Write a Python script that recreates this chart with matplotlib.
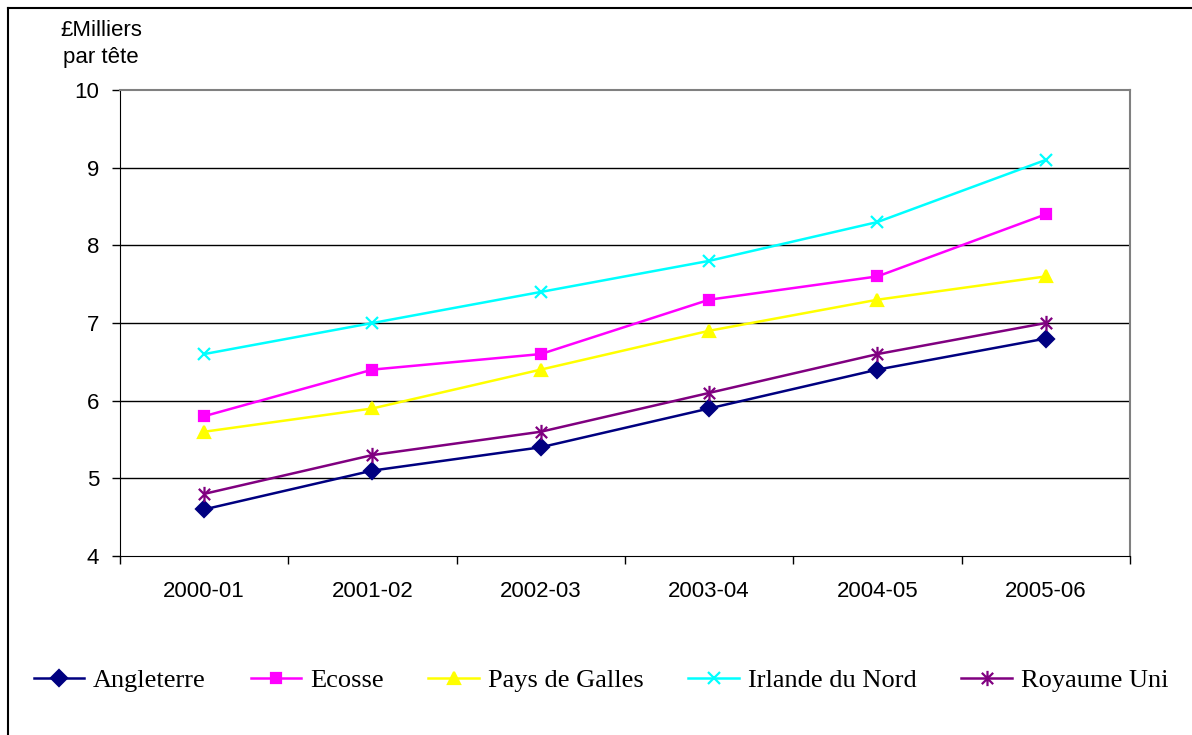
import numpy as np
import matplotlib
matplotlib.use("Agg")
import matplotlib.pyplot as plt
from matplotlib.lines import Line2D
from matplotlib.path import Path

years = ["2000-01", "2001-02", "2002-03", "2003-04", "2004-05", "2005-06"]
angleterre = [4.6, 5.1, 5.4, 5.9, 6.4, 6.8]
ecosse = [5.8, 6.4, 6.6, 7.3, 7.6, 8.4]
galles = [5.6, 5.9, 6.4, 6.9, 7.3, 7.6]
irlande = [6.6, 7.0, 7.4, 7.8, 8.3, 9.1]
royaume = [4.8, 5.3, 5.6, 6.1, 6.6, 7.0]
yticks = [4, 5, 6, 7, 8, 9, 10]

# asterisk marker like Excel's (x with a vertical bar)
star = Path([(-1, -1), (1, 1), (-1, 1), (1, -1), (0, -1.35), (0, 1.35)],
            [Path.MOVETO, Path.LINETO, Path.MOVETO, Path.LINETO, Path.MOVETO, Path.LINETO])

series = [
    ("Angleterre", angleterre, "#000080", "D", 8),
    ("Ecosse", ecosse, "#FF00FF", "s", 7.5),
    ("Pays de Galles", galles, "#FFFF00", "^", 9),
    ("Irlande du Nord", irlande, "#00FFFF", "x", 8.5),
    ("Royaume Uni", royaume, "#800080", star, 11),
]

W, H = 1192, 735
fig = plt.figure(figsize=(W / 100, H / 100), dpi=100)
ax = fig.add_axes([120 / W, 1 - 556 / H, 1010 / W, 466 / H])

x = np.arange(len(years))
for name, vals, col, mk, ms in series:
    ax.plot(x, vals, color=col, lw=1.8, marker=mk, markersize=ms,
            markerfacecolor=col, markeredgecolor=col, markeredgewidth=1.6, label=name)

ax.set_xlim(-0.5, len(years) - 0.5)
ax.set_ylim(4, 10)
ax.set_yticks(yticks)
ax.set_xticks(x)
ax.set_xticklabels(years)
ax.set_xticks(np.arange(len(years) + 1) - 0.5, minor=True)
ax.tick_params(axis="x", which="major", length=0, pad=18, labelsize=16)
ax.tick_params(axis="x", which="minor", length=6, width=1, color="black", direction="out")
ax.tick_params(axis="y", length=6, width=1, color="black", direction="out", pad=9, labelsize=16)
for lab in ax.get_xticklabels() + ax.get_yticklabels():
    lab.set_family("Liberation Sans")

for yv in yticks[1:-1]:
    ax.axhline(yv, color="black", lw=1, zorder=0)
ax.spines["top"].set_color("#808080")
ax.spines["right"].set_color("#808080")
ax.spines["top"].set_linewidth(1.5)
ax.spines["right"].set_linewidth(1.5)
ax.spines["left"].set_color("black")
ax.spines["bottom"].set_color("black")

fig.text(101 / W, 1 - 44 / H, "£Milliers\npar tête", ha="center", va="center",
         fontsize=16, family="Liberation Sans", linespacing=1.4)

leg = fig.legend(loc="center", bbox_to_anchor=(601 / W, 1 - 680 / H), ncol=5, frameon=False,
                 prop={"family": "Liberation Serif", "size": 19},
                 handlelength=1.9, handletextpad=0.35, columnspacing=1.7, borderaxespad=0)

# outer frame (left and top edges visible)
fig.add_artist(Line2D([8 / W, 8 / W], [0, 1 - 8 / H], color="black", lw=1.5, transform=fig.transFigure))
fig.add_artist(Line2D([8 / W, 1], [1 - 8 / H, 1 - 8 / H], color="black", lw=1.5, transform=fig.transFigure))

fig.savefig("out.png", dpi=100)
